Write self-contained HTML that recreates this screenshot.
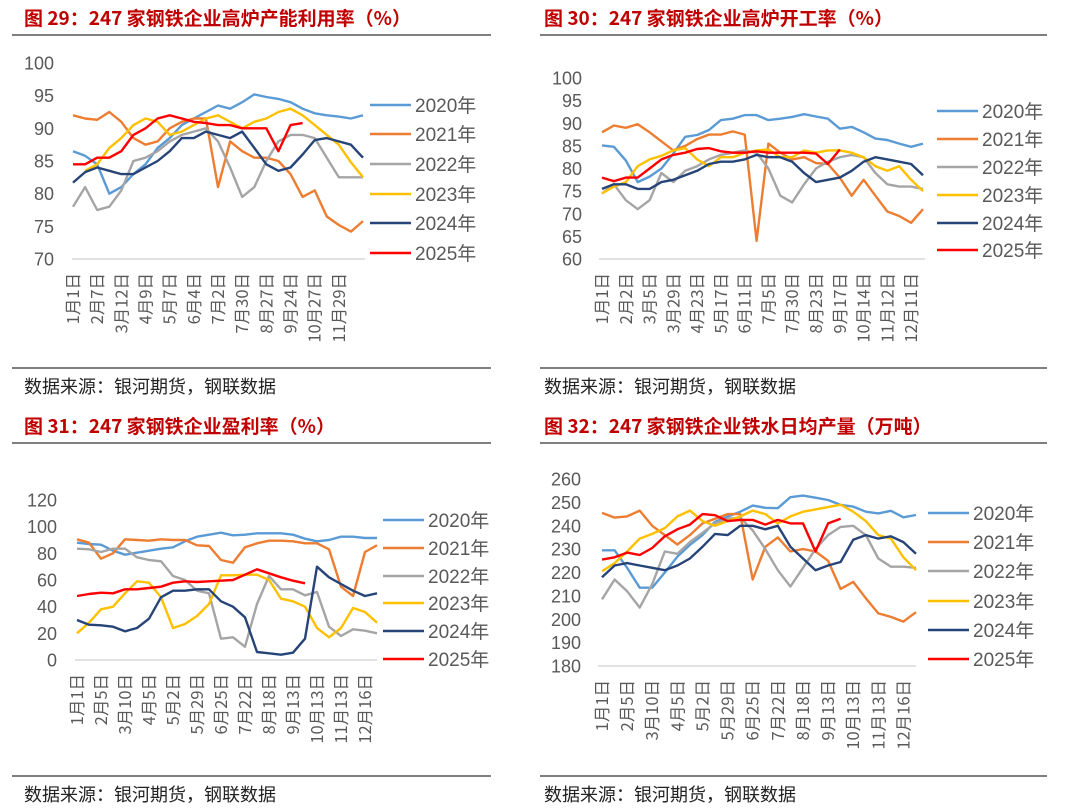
<!DOCTYPE html>
<html><head><meta charset="utf-8">
<style>
html,body{margin:0;padding:0;background:#fff;}
svg{display:block;}
text{font-family:"Liberation Sans","Noto Sans CJK SC",sans-serif;}
.cjk{font-family:"Noto Sans CJK SC","Liberation Sans",sans-serif;}
</style></head>
<body>
<svg id="root" width="1080" height="811" viewBox="0 0 1080 811" xmlns="http://www.w3.org/2000/svg"></svg>
<script>
// ---------- Chart 29: blast furnace capacity utilization ----------
const c29Ticks = [100,95,90,85,80,75,70];
const c29Cats = ["1月1日","2月7日","3月12日","4月9日","5月7日","6月4日","7月2日","7月30日","8月27日","9月24日","10月27日","11月29日"];
const c29y2020 = [86.5,85.8,84.5,80,81,83,84.5,87,88.5,90.5,91.5,92.5,93.5,93,94,95.2,94.8,94.5,94,93,92.3,92,91.8,91.5,92];
const c29y2021 = [92,91.5,91.3,92.5,91,88.5,87.5,88,90,91,91.5,91.5,81,88,86.5,85.5,85.5,85,83,79.5,80.5,76.5,75.2,74.2,75.8];
const c29y2022 = [78,81,77.5,78,80.5,85,85.5,86.5,88,89,89.5,90,88,84,79.5,81,85,88,89,89,88.5,85.5,82.5,82.5,82.5];
const c29y2023 = [null,83.5,84.5,87,88.5,90.5,91.5,91,89,89.5,90.5,91.5,92,91,90,91,91.5,92.5,93,92,90.5,89,87.5,84.8,82.5];
const c29y2024 = [81.7,83.3,84,83.5,83,83,84,85,86.5,88.5,88.5,89.5,89,88.5,89.5,87,84.5,83.5,84,86,88.2,88.5,88,87.5,85.5];
const c29y2025 = [84.5,84.5,85.5,85.5,86.5,89,90,91.5,92,91.5,91,90.8,90.5,90.5,90,90,90,86.5,90.5,90.8];

// ---------- Chart 30: blast furnace operating rate ----------
const c30Ticks = [100,95,90,85,80,75,70,65,60];
const c30Cats = ["1月1日","2月2日","3月5日","3月29日","4月23日","5月17日","6月11日","7月5日","7月30日","8月23日","9月17日","10月14日","11月12日","12月11日"];
const c30y2020 = [85.1,84.8,81.8,77,78.2,80,83.3,87,87.4,88.5,90.7,91,91.8,91.8,90.7,91,91.4,92,91.5,91,88.8,89.2,88,86.6,86.3,85.5,84.8,85.5];
const c30y2021 = [88,89.5,89,89.8,88,86,84,85,86.5,87.5,87.5,88.2,87.5,64,85.5,83.5,82,82.5,81.2,81,78,74,77.5,74,70.5,69.5,68,71];
const c30y2022 = [74.5,76.5,73,71,73,79,77,79.5,80.5,82,83,83.5,84,83.5,80,74,72.5,76.5,80,81.5,82.5,83,82.5,79,76.5,76,76,75.5];
const c30y2023 = [74.5,76,77,80.5,82,82.8,84,84.5,82,80.5,82.5,82.5,83.5,84,84.2,82.5,82.5,84,83.5,84,84,83.5,82.5,80.5,79.5,80.5,77.5,75];
const c30y2024 = [75.5,76.5,76.5,75.5,75.5,77,77.5,78.5,79.5,81,81.5,81.5,82,83,82.5,82.5,81.5,79,77,77.5,78,79.5,81.5,82.5,82,81.5,81,78.5];
const c30y2025 = [78,77.2,78,78,80,82,83,83.5,84.3,84.5,83.8,83.5,83.5,83.8,83.5,83.5,83.5,83.5,83.3,81,84.2];

// ---------- Chart 31: profitability rate ----------
const c31Ticks = [120,100,80,60,40,20,0];
const c31Cats = ["1月1日","2月5日","3月10日","4月5日","5月2日","5月29日","6月25日","7月22日","8月18日","9月13日","10月13日","11月13日","12月16日"];
const c31y2020 = [88,87,86.5,82,79,80.5,82,83.5,84.5,89,92.5,94,95.5,93.5,94,95,95,95,94,91,89,90,92.5,92.5,91.5,91.5];
const c31y2021 = [90.5,88,76,80,90.5,90,89.5,90.5,90,90,86,85.5,75,73,84.5,87.5,89.5,89.5,89,87.5,87.5,83,55,48,81,86];
const c31y2022 = [83.5,83,81,83.5,83.5,77,75,74,63,60,52,50,16,17,10,42,63,53,53,48.5,51,25,18,23,22,20];
const c31y2023 = [20,28,38,40,50,59,58,47,24,27,33,42,63.5,63.5,64,64,60,46,44,40,24,17,24,39,36,28];
const c31y2024 = [30,26.5,26,25,21.5,24,31,47,52,52,53,53,44,40,32,6,5,4,5.5,16,70,62,57,52,48,50];
const c31y2025 = [48,49.5,50.5,50,53,53,54,55,58,59,58.5,59,59.5,60,64,68,65,62,59.5,57.5];

// ---------- Chart 32: daily hot metal output ----------
const c32Ticks = [260,250,240,230,220,210,200,190,180];
const c32Cats = ["1月1日","2月5日","3月10日","4月5日","5月2日","5月29日","6月25日","7月22日","8月18日","9月13日","10月13日","11月13日","12月16日"];
const c32y2020 = [229.5,229.5,222,213.5,213.5,220,226.8,231.8,236,241.7,243.9,246,248.6,247.7,247.5,252.2,252.9,252,251,248.9,248.2,246,245.3,246.4,243.6,244.6];
const c32y2021 = [245.5,243.5,244,246.5,240,236,232,236,241,243,245,245,217,231,235,229,230,229,225,213,216,209,202.5,201,199,203];
const c32y2022 = [208.5,217,212,205,215,229,228,233,237,241,243,243.5,238,230,221,214,222,230,236,239.5,240,236,226,222.5,222.5,222];
const c32y2023 = [220.5,224,229,234.5,236.5,239,244,246.5,242,240,242,244,246.5,245,241,244,246,247,248,249,246,242,236,234.5,226.5,221];
const c32y2024 = [218,223,224,223,222,221,223,226,231,236.5,236,240,240,238.5,240,231,226,221,223,224.5,234,236,234.5,235.5,233,228];
const c32y2025 = [225.5,226.5,228.5,227.5,230.5,235.5,238.5,240.5,245,244.5,242,242.5,242.5,240.5,242.5,241,241,229,241,243];

const seriesColors = ["#5B9BD5","#ED7D31","#A5A5A5","#FFC000","#264478","#FF0000"];
const seriesNames = ["2020年","2021年","2022年","2023年","2024年","2025年"];

const NS = "http://www.w3.org/2000/svg";
const root = document.getElementById("root");
function mk(tag, parent){ const e=document.createElementNS(NS,tag); parent.appendChild(e); return e; }

const panels = [
  {id:"fig29", title:"图 29：247 家钢铁企业高炉产能利用率（%）", ox:0, oy:0, ruleX2:491,
   ticks:c29Ticks, cats:c29Cats, series:[c29y2020,c29y2021,c29y2022,c29y2023,c29y2024,c29y2025],
   yTop:63, yBot:259, x0:73, xEnd:363, nIdx:48, step:2, labelEvery:4, axisX1:72, axisX2:365, yLabX:54,
   legX:370, legY:[105,134,164,194,223,253]},
  {id:"fig30", title:"图 30：247 家钢铁企业高炉开工率（%）", ox:540, oy:0, ruleX2:1047,
   ticks:c30Ticks, cats:c30Cats, series:[c30y2020,c30y2021,c30y2022,c30y2023,c30y2024,c30y2025],
   yTop:78, yBot:259, x0:602, xEnd:923, nIdx:54, step:2, labelEvery:4, axisX1:599, axisX2:925, yLabX:582,
   legX:937, legY:[111,139,167,195,223,250]},
  {id:"fig31", title:"图 31：247 家钢铁企业盈利率（%）", ox:0, oy:408, ruleX2:491,
   ticks:c31Ticks, cats:c31Cats, series:[c31y2020,c31y2021,c31y2022,c31y2023,c31y2024,c31y2025],
   yTop:500, yBot:660, x0:77, xEnd:377, nIdx:50, step:2, labelEvery:4, axisX1:75, axisX2:377, yLabX:57,
   legX:383, legY:[520,548,576,603,631,659]},
  {id:"fig32", title:"图 32：247 家钢铁企业铁水日均产量（万吨）", ox:540, oy:408, ruleX2:1047,
   ticks:c32Ticks, cats:c32Cats, series:[c32y2020,c32y2021,c32y2022,c32y2023,c32y2024,c32y2025],
   yTop:479, yBot:666, x0:602, xEnd:916, nIdx:50, step:2, labelEvery:4, axisX1:598, axisX2:916, yLabX:581,
   legX:928, legY:[513,542,571,601,630,659]}
];

panels.forEach(p=>{
  const g = mk("g", root);
  
  
  const tx0 = p.ox === 0 ? 24 : p.ox + 4;
  const ruleX1 = p.ox === 0 ? 12 : 540;

  const title = mk("text", g);
  
  
  title.setAttribute("x", tx0); title.setAttribute("y", p.oy + 25);
  title.setAttribute("fill", "#C00000"); title.setAttribute("font-size", "19");
  title.setAttribute("font-weight", "bold"); title.setAttribute("class", "cjk");
  title.textContent = p.title;

  const r1 = mk("line", g);
  
  
  r1.setAttribute("x1", ruleX1); r1.setAttribute("x2", p.ruleX2);
  r1.setAttribute("y1", p.oy + 35); r1.setAttribute("y2", p.oy + 35);
  r1.setAttribute("stroke", "#333"); r1.setAttribute("stroke-width", "1.2");

  const r2 = mk("line", g);
  
  
  r2.setAttribute("x1", ruleX1); r2.setAttribute("x2", p.ruleX2);
  r2.setAttribute("y1", p.oy + 368); r2.setAttribute("y2", p.oy + 368);
  r2.setAttribute("stroke", "#333"); r2.setAttribute("stroke-width", "1.2");

  const src = mk("text", g);
  
  
  src.setAttribute("x", tx0); src.setAttribute("y", p.oy + 393);
  src.setAttribute("fill", "#222"); src.setAttribute("font-size", "18"); src.setAttribute("class", "cjk");
  src.textContent = "数据来源：银河期货，钢联数据";

  const vMax = p.ticks[0], vMin = p.ticks[p.ticks.length-1];
  const yS = v => p.yBot - (v - vMin) / (vMax - vMin) * (p.yBot - p.yTop);
  const xS = i => p.x0 + i / p.nIdx * (p.xEnd - p.x0);

  p.ticks.forEach(t=>{
    const tt = mk("text", g);
    
    
    tt.setAttribute("x", p.yLabX); tt.setAttribute("y", yS(t) + 6.5);
    tt.setAttribute("text-anchor", "end"); tt.setAttribute("fill", "#595959"); tt.setAttribute("font-size", "18");
    tt.textContent = t;
  });

  const ax = mk("line", g);
  
  
  ax.setAttribute("x1", p.axisX1); ax.setAttribute("x2", p.axisX2);
  ax.setAttribute("y1", p.yBot); ax.setAttribute("y2", p.yBot);
  ax.setAttribute("stroke", "#D9D9D9"); ax.setAttribute("stroke-width", "1.5");

  p.cats.forEach((c, k)=>{
    const x = xS(k * p.labelEvery);
    const tl = mk("text", g);
    
    
    tl.setAttribute("transform", "translate(" + (x + 6) + "," + (p.yBot + 14) + ") rotate(-90)");
    tl.setAttribute("text-anchor", "end"); tl.setAttribute("fill", "#595959"); tl.setAttribute("font-size", "16.5");
    tl.setAttribute("class", "cjk");
    tl.textContent = c;
  });

  p.series.forEach((vals, si)=>{
    let d = "", pen = false;
    vals.forEach((v, i)=>{
      if (v === null) { pen = false; return; }
      d += (pen ? "L" : "M") + xS(i * p.step).toFixed(1) + " " + yS(v).toFixed(1) + " ";
      pen = true;
    });
    const path = mk("path", g);
    
    
    path.setAttribute("d", d); path.setAttribute("fill", "none");
    path.setAttribute("stroke", seriesColors[si]); path.setAttribute("stroke-width", "2.4");
    path.setAttribute("stroke-linejoin", "round");
  });

  seriesNames.forEach((n, si)=>{
    const y = p.legY[si];
    const lg = mk("g", g);
    
    
    const ll = mk("line", lg);
    ll.setAttribute("x1", p.legX); ll.setAttribute("x2", p.legX + 41);
    ll.setAttribute("y1", y); ll.setAttribute("y2", y);
    ll.setAttribute("stroke", seriesColors[si]); ll.setAttribute("stroke-width", "2.6");
    const lt = mk("text", lg);
    lt.setAttribute("x", p.legX + 45); lt.setAttribute("y", y + 7);
    lt.setAttribute("fill", "#595959"); lt.setAttribute("font-size", "19");
    lt.textContent = n;
  });
});
</script>
</body></html>
